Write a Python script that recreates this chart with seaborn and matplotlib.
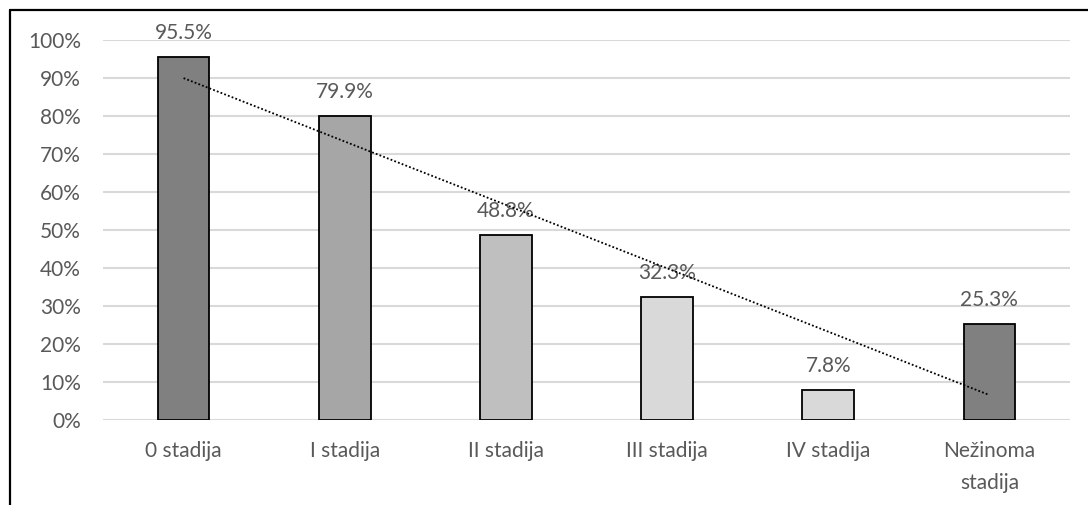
import numpy as np
import pandas as pd
import matplotlib
matplotlib.use("Agg")
import matplotlib.pyplot as plt
from matplotlib.lines import Line2D
from matplotlib.ticker import PercentFormatter
import seaborn as sns

# Survival share by cancer stage
stages = ["0 stadija", "I stadija", "II stadija", "III stadija", "IV stadija", "Nežinoma\nstadija"]
shares = [95.5, 79.9, 48.8, 32.3, 7.8, 25.3]
bar_colors = ["#808080", "#A6A6A6", "#BFBFBF", "#D9D9D9", "#D9D9D9", "#808080"]
y_ticks = [0, 10, 20, 30, 40, 50, 60, 70, 80, 90, 100]

sns.set_theme(style="white")
plt.rcParams["font.family"] = ["Lato", "DejaVu Sans"]
text_color = "#595959"
fs = 15

df = pd.DataFrame({"stage": stages, "share": shares})

fig = plt.figure(figsize=(10.88, 5.05), dpi=100)
ax = fig.add_axes([103 / 1088, 1 - 420 / 505, (1070 - 103) / 1088, 380 / 505])

ax.set_axisbelow(True)
for t in y_ticks:
    ax.axhline(t, color="#D9D9D9", linewidth=1.5, zorder=0)

sns.barplot(data=df, x="stage", y="share", hue="stage", palette=bar_colors,
            legend=False, width=0.32, edgecolor="black", linewidth=1.3,
            saturation=1, ax=ax, zorder=2)

# Value labels above each bar
for i, v in enumerate(shares):
    ax.annotate(f"{v:.1f}%", (i, v), xytext=(0, 10), textcoords="offset points",
                ha="center", va="bottom", fontsize=fs, color=text_color,
                annotation_clip=False)

# Linear trend across the stages
xs = np.arange(len(shares))
slope, intercept = np.polyfit(xs, shares, 1)
ax.plot(xs, slope * xs + intercept, linestyle=(0, (1, 1.2)), color="black",
        linewidth=1.3, zorder=3)

ax.set_xlim(-0.5, len(stages) - 0.5)
ax.set_ylim(0, 100)
ax.set_yticks(y_ticks)
ax.yaxis.set_major_formatter(PercentFormatter(decimals=0))
ax.set_xlabel("")
ax.set_ylabel("")
ax.tick_params(axis="y", labelsize=fs, labelcolor=text_color, length=0, pad=16)
ax.tick_params(axis="x", labelsize=fs, labelcolor=text_color, length=0, pad=15)
for lbl in ax.get_xticklabels():
    lbl.set_linespacing(1.75)
for s in ax.spines.values():
    s.set_visible(False)

# Outer frame (left and top edges)
fig.add_artist(Line2D([9.5 / 1088, 9.5 / 1088], [0, 1 - 10 / 505],
                      transform=fig.transFigure, color="black", linewidth=1.6))
fig.add_artist(Line2D([9.5 / 1088, 1], [1 - 10 / 505, 1 - 10 / 505],
                      transform=fig.transFigure, color="black", linewidth=1.6))

fig.savefig("out.png", dpi=100)
